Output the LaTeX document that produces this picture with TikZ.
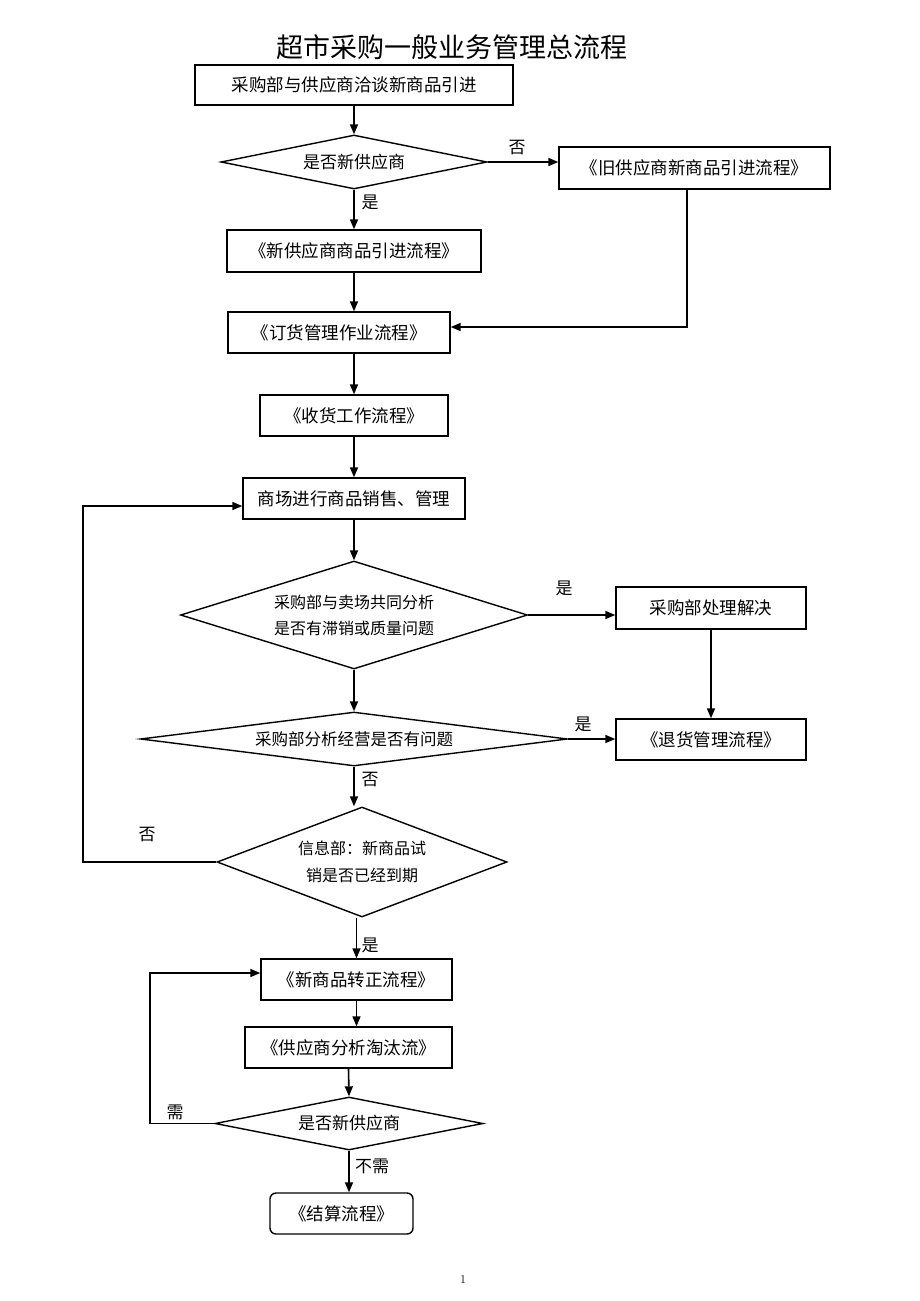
\documentclass[tikz,border=0pt]{standalone}
\usepackage{fontspec}
\newfontfamily\cjk{Noto Sans CJK SC}
\usetikzlibrary{shapes.geometric,arrows.meta}
\begin{document}
\begin{tikzpicture}[x=1pt,y=-1pt,
  box/.style={draw,line width=1.4pt,rectangle,inner sep=0pt,font=\cjk\fontsize{17.5}{20}\selectfont},
  dia/.style={draw,line width=1.4pt,diamond,inner sep=0pt,align=center,font=\cjk\fontsize{16}{26}\selectfont},
  arr/.style={line width=1.6pt,-{Triangle[length=10pt,width=8pt]}},
  lbl/.style={inner sep=0pt,font=\cjk\fontsize{17}{20}\selectfont}]
\useasboundingbox (0,0) rectangle (920,1301);

\node[inner sep=0pt,font=\cjk\fontsize{27}{30}\selectfont] (title) at (452,47) {超市采购一般业务管理总流程};

\node[box,minimum width=318pt,minimum height=40pt] (b1) at (354,85) {采购部与供应商洽谈新商品引进};
\node[dia,aspect=4.93,minimum width=266pt,minimum height=54pt,font=\cjk\fontsize{17}{20}\selectfont] (d1) at (354,162) {是否新供应商};
\node[box,minimum width=271pt,minimum height=42pt] (bold) at (694.5,168) {《旧供应商新商品引进流程》};
\node[box,minimum width=254pt,minimum height=42pt] (bnew) at (354,251) {《新供应商商品引进流程》};
\node[box,minimum width=222pt,minimum height=41pt] (border) at (339,332.5) {《订货管理作业流程》};
\node[box,minimum width=188pt,minimum height=41pt] (brec) at (354,415.5) {《收货工作流程》};
\node[box,minimum width=222pt,minimum height=41pt] (bmall) at (354,498.5) {商场进行商品销售、管理};
\node[dia,aspect=3.21,minimum width=347pt,minimum height=108pt] (d2) at (354,615) {采购部与卖场共同分析\\是否有滞销或质量问题};
\node[box,minimum width=190pt,minimum height=42pt] (bsolve) at (711,608) {采购部处理解决};
\node[dia,aspect=7.9,minimum width=427pt,minimum height=54pt,font=\cjk\fontsize{16.5}{20}\selectfont] (d3) at (354,739) {采购部分析经营是否有问题};
\node[box,minimum width=190pt,minimum height=41pt] (bret) at (711,739.5) {《退货管理流程》};
\node[dia,aspect=2.64,minimum width=290pt,minimum height=110pt,font=\cjk\fontsize{16}{27}\selectfont] (d4) at (362,862) {信息部：新商品试\\销是否已经到期};
\node[box,minimum width=191pt,minimum height=41pt] (bconv) at (356.5,979.5) {《新商品转正流程》};
\node[box,minimum width=207pt,minimum height=41pt] (bsup) at (348.5,1047.5) {《供应商分析淘汰流》};
\node[dia,aspect=5.06,minimum width=268pt,minimum height=53pt,font=\cjk\fontsize{17}{20}\selectfont] (d5) at (349,1123.5) {是否新供应商};
\node[box,rounded corners=6pt,minimum width=143pt,minimum height=41pt] (bend) at (341.5,1213.5) {《结算流程》};

\node[inner sep=0pt,font=\fontsize{12}{14}\selectfont] (pg) at (463,1279) {1};

% labels
\node[lbl] (l1) at (517,148) {否};
\node[lbl] (l2) at (370,202) {是};
\node[lbl] (l3) at (564,588) {是};
\node[lbl] (l4) at (583,724) {是};
\node[lbl] (l5) at (370,780) {否};
\node[lbl] (l6) at (147,835) {否};
\node[lbl] (l7) at (370,945) {是};
\node[lbl] (l8) at (175,1112) {需};
\node[lbl] (l9) at (372,1166) {不需};

\coordinate (c1) at (687,327);
\coordinate (c2) at (83,506);
\coordinate (c3) at (150,973);

% connectors
\draw[arr] (b1.south) -- (d1.north);
\draw[arr] (d1.east) -- (d1.east -| bold.west);
\draw[arr] (d1.south) -- (bnew.north);
\draw[arr] (bnew.south) -- (bnew.south |- border.north);
\draw[arr] (bold.south -| c1) -- (c1) -- (c1 -| border.east);
\draw[arr] (brec.north |- border.south) -- (brec.north);
\draw[arr] (brec.south) -- (bmall.north);
\draw[arr] (bmall.south) -- (d2.north);
\draw[arr] (d2.east) -- (d2.east -| bsolve.west);
\draw[arr] (bsolve.south) -- (bret.north);
\draw[arr] (d2.south) -- (d3.north);
\draw[arr] (d3.east) -- (d3.east -| bret.west);
\draw[arr] (d3.south) -- (d3.south |- d4.north);
\draw[arr] (d4.west) -- (d4.west -| c2) -- (c2) -- (c2 -| bmall.west);
\draw[arr] (bconv.north |- d4.south) -- (bconv.north);
\draw[arr] (bconv.south) -- (bconv.south |- bsup.north);
\draw[arr] (bsup.south) -- (d5.north);
\draw[arr] (d5.west) -- (d5.west -| c3) -- (c3) -- (c3 -| bconv.west);
\draw[arr] (d5.south) -- (d5.south |- bend.north);
\end{tikzpicture}
\end{document}
